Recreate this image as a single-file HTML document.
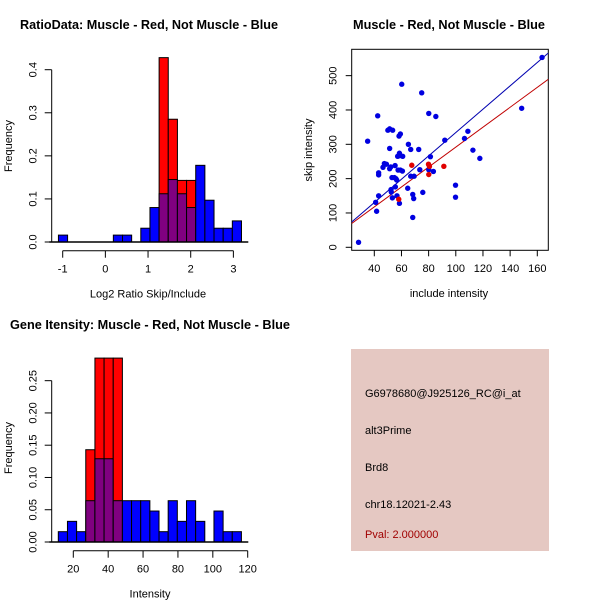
<!DOCTYPE html>
<html><head><meta charset="utf-8"><style>
html,body{margin:0;padding:0;background:#fff;}
svg{display:block;font-family:"Liberation Sans",Arial,sans-serif;}
</style></head><body>
<svg id="c" width="600" height="600" viewBox="0 0 600 600" xmlns="http://www.w3.org/2000/svg">
<rect width="600" height="600" fill="#fff"/>
<g id="p1"></g>
<g id="p2"></g>
<g id="p3"></g>
<g>
<rect x="351" y="349" width="198" height="202" fill="#e5c8c2"/>
<text x="365" y="397" font-size="11" fill="#000">G6978680@J925126_RC@i_at</text>
<text x="365" y="434" font-size="11" fill="#000">alt3Prime</text>
<text x="365" y="471" font-size="11" fill="#000">Brd8</text>
<text x="365" y="508" font-size="11" fill="#000">chr18.12021-2.43</text>
<text x="365" y="538" font-size="11" fill="#a00000">Pval: 2.000000</text>
</g>
</svg>
<script>
// ---- Panel 1 data: ratio histogram ----
const ratioBinStart = -1.10;
const ratioBinWidth = 0.2145;
const ratioBlue = [0.016,0,0,0,0,0,0.016,0.016,0,0.032,0.08,0.112,0.145,0.112,0.08,0.178,0.097,0.032,0.032,0.049];
const ratioRed  = [0,0,0,0,0,0,0,0,0,0,0,0.428,0.285,0.143,0.143,0,0,0,0,0];
const ratioXTicks = [-1,0,1,2,3];
const ratioYTicks = [0.0,0.1,0.2,0.3,0.4];
const ratioYLabels = ["0.0","0.1","0.2","0.3","0.4"];
// ---- Panel 2 data: scatter ----
const blueX = [28.4,35.1,42.5,41,41.7,43.2,43.2,43.2,46.4,47.4,48.9,50,51.3,53.5,51.3,52.1,51.3,53,54.8,52.3,52.5,53.3,55.5,55.3,56.7,55.9,56.5,57.5,59.2,60.7,58.2,59.2,60.2,58.5,58.7,57.2,60.9,58.5,65.1,66.8,72.7,64.6,66.8,69.3,73.5,68.3,69,68.3,74.9,75.7,80.1,85.3,81.3,80.1,83.5,91.9,99.8,99.8,106.4,108.9,112.6,117.7,148.5,163.5];
const blueY = [14.6,309,383,131,105,150,217,211,233,244,242,341,345,341,288,234,229,203,203,168,161,144,176,238,150,200,196,225,225,222,324,330,475,274,267,265,265,128,300,285,285,172,207,207,226,154,142,87,450,160,390,381,264,226,221,312,181,146,317,338,283,259,405,553];
const redX = [67.6,79.9,80.6,80.1,91.2,58];
const redY = [239,242,236,212,236,140];
const blueFit = [-5.7,3.40];   // intercept, slope
const redFit = [1.4,2.904];
const scatXTicks = [40,60,80,100,120,140,160];
const scatYTicks = [0,100,200,300,400,500];
// ---- Panel 3 data: intensity histogram ----
const intBinStart = 11.4;
const intBinWidth = 5.25;
const intBlue = [0.016,0.032,0.016,0.064,0.129,0.129,0.064,0.064,0.064,0.064,0.048,0.016,0.064,0.032,0.064,0.032,0,0.048,0.016,0.016];
const intRed  = [0,0,0,0.143,0.285,0.285,0.285,0,0,0,0,0,0,0,0,0,0,0,0,0];
const intXTicks = [20,40,60,80,100,120];
const intYTicks = [0,0.05,0.10,0.15,0.20,0.25];
const intYLabels = ["0.00","0.05","0.10","0.15","0.20","0.25"];

const NS="http://www.w3.org/2000/svg";
function mk(parent,tag,attrs,txt){const e=document.createElementNS(NS,tag);for(const k in attrs)e.setAttribute(k,attrs[k]);if(txt!==undefined)e.textContent=txt;parent.appendChild(e);return e;}

function hist(g,o){
  const X=v=>o.x0+(v-o.xv0)*o.xs, Y=v=>o.y0-v*o.ys;
  for(let i=0;i<o.blue.length;i++){
    const l=X(o.start+i*o.w), r=X(o.start+(i+1)*o.w);
    const b=o.blue[i], rd=o.red[i];
    if(rd>0){const e=mk(g,'rect',{x:l,y:Y(rd),width:r-l,height:Y(0)-Y(rd),fill:'#ff0000',stroke:'#000','stroke-width':1});
      
      }
    if(b>0){const e=mk(g,'rect',{x:l,y:Y(b),width:r-l,height:Y(0)-Y(b),fill:(rd>0?'#800080':'#0000ff'),stroke:'#000','stroke-width':1});
      
      
      if(rd>0&&rd<b){const e2=mk(g,'rect',{x:l,y:Y(b),width:r-l,height:Y(rd)-Y(b),fill:'#0000ff',stroke:'#000','stroke-width':1});
        
        }}
  }
  const base=mk(g,'line',{x1:o.bx1,x2:o.bx2,y1:Y(0),y2:Y(0),stroke:'#000','stroke-width':1.5});
  
  
  const ya=mk(g,'line',{x1:o.yax,x2:o.yax,y1:Y(o.yt[0]),y2:Y(o.yt[o.yt.length-1]),stroke:'#000'});
  
  
  o.yt.forEach((t,i)=>{mk(g,'line',{x1:o.yax-7,x2:o.yax,y1:Y(t),y2:Y(t),stroke:'#000'});
    const tx=mk(g,'text',{x:o.yax-15,y:Y(t),'font-size':11,'text-anchor':'middle',transform:`rotate(-90 ${o.yax-15} ${Y(t)})`},o.yl[i]);
    
    });
  const xa=mk(g,'line',{x1:X(o.xt[0]),x2:X(o.xt[o.xt.length-1]),y1:o.xay,y2:o.xay,stroke:'#000'});
  
  
  o.xt.forEach(t=>{mk(g,'line',{x1:X(t),x2:X(t),y1:o.xay,y2:o.xay+7,stroke:'#000'});
    const tx=mk(g,'text',{x:X(t),y:o.xay+22,'font-size':11,'text-anchor':'middle'},String(t));
    
    });
  const xl=mk(g,'text',{x:o.xlx,y:o.xay+47,'font-size':11,'text-anchor':'middle'},o.xlab);
  
  
  const yl=mk(g,'text',{x:12,y:o.ylY,'font-size':11,'text-anchor':'middle',transform:`rotate(-90 12 ${o.ylY})`},'Frequency');
  
  
  const ti=mk(g,'text',{x:o.tx,y:o.ty,'font-size':13,'font-weight':'bold','text-anchor':'middle',textLength:o.tl,lengthAdjust:'spacingAndGlyphs'},o.title);
  
  
}

hist(document.getElementById('p1'),{x0:62.7,xv0:-1,xs:42.67,y0:242,ys:430.75,start:ratioBinStart,w:ratioBinWidth,blue:ratioBlue,red:ratioRed,
  bx1:49.3,bx2:248.3,yax:51.7,yt:ratioYTicks,yl:ratioYLabels,xt:ratioXTicks,xay:250.7,xlx:148,xlab:'Log2 Ratio Skip/Include',ylY:146,
  tx:149,ty:29,tl:258,title:'RatioData: Muscle - Red, Not Muscle - Blue'});
hist(document.getElementById('p3'),{x0:73.3,xv0:20,xs:1.744,y0:542,ys:645.3,start:intBinStart,w:intBinWidth,blue:intBlue,red:intRed,
  bx1:49.3,bx2:248.3,yax:51.7,yt:intYTicks,yl:intYLabels,xt:intXTicks,xay:550.7,xlx:150,xlab:'Intensity',ylY:448,
  tx:150,ty:329,tl:280,title:'Gene Itensity: Muscle - Red, Not Muscle - Blue'});

(function(){
  const g=document.getElementById('p2');
  const X=v=>374.3+(v-40)*1.3583, Y=v=>247.3-v*0.3433;
  const L=351.7,R=548.3,T=49.3,B=250.3;
  const box=mk(g,'rect',{x:L,y:T,width:R-L,height:B-T,fill:'none',stroke:'#000'});
  
  
  const cp=mk(g,'clipPath',{id:'sc'});mk(cp,'rect',{x:L,y:T,width:R-L,height:B-T});
  const xva=(L-374.3)/1.3583+40, xvb=(R-374.3)/1.3583+40;
  const lb=mk(g,'line',{x1:L,y1:Y(blueFit[0]+blueFit[1]*xva),x2:R,y2:Y(blueFit[0]+blueFit[1]*xvb),stroke:'#0000b0','stroke-width':1,'clip-path':'url(#sc)'});
  
  
  const lr=mk(g,'line',{x1:L,y1:Y(redFit[0]+redFit[1]*xva),x2:R,y2:Y(redFit[0]+redFit[1]*xvb),stroke:'#c00000','stroke-width':1,'clip-path':'url(#sc)'});
  
  
  blueX.forEach((x,i)=>{const c=mk(g,'circle',{cx:X(x),cy:Y(blueY[i]),r:2.7,fill:'#0000e0'});
    
    });
  redX.forEach((x,i)=>{const c=mk(g,'circle',{cx:X(x),cy:Y(redY[i]),r:2.7,fill:'#e00000'});
    
    });
  scatXTicks.forEach(t=>{mk(g,'line',{x1:X(t),x2:X(t),y1:B,y2:B+6,stroke:'#000'});
    const tx=mk(g,'text',{x:X(t),y:272,'font-size':11,'text-anchor':'middle'},String(t));
    
    });
  scatYTicks.forEach(t=>{mk(g,'line',{x1:L-6,x2:L,y1:Y(t),y2:Y(t),stroke:'#000'});
    const tx=mk(g,'text',{x:L-15,y:Y(t),'font-size':11,'text-anchor':'middle',transform:`rotate(-90 ${L-15} ${Y(t)})`},String(t));
    
    });
  const xl=mk(g,'text',{x:449,y:297,'font-size':11,'text-anchor':'middle'},'include intensity');
  
  
  const yl=mk(g,'text',{x:312,y:150,'font-size':11,'text-anchor':'middle',transform:'rotate(-90 312 150)'},'skip intensity');
  
  
  const ti=mk(g,'text',{x:449,y:29,'font-size':13,'font-weight':'bold','text-anchor':'middle',textLength:192,lengthAdjust:'spacingAndGlyphs'},'Muscle - Red, Not Muscle - Blue');
  
  
})();
</script>
</body></html>
